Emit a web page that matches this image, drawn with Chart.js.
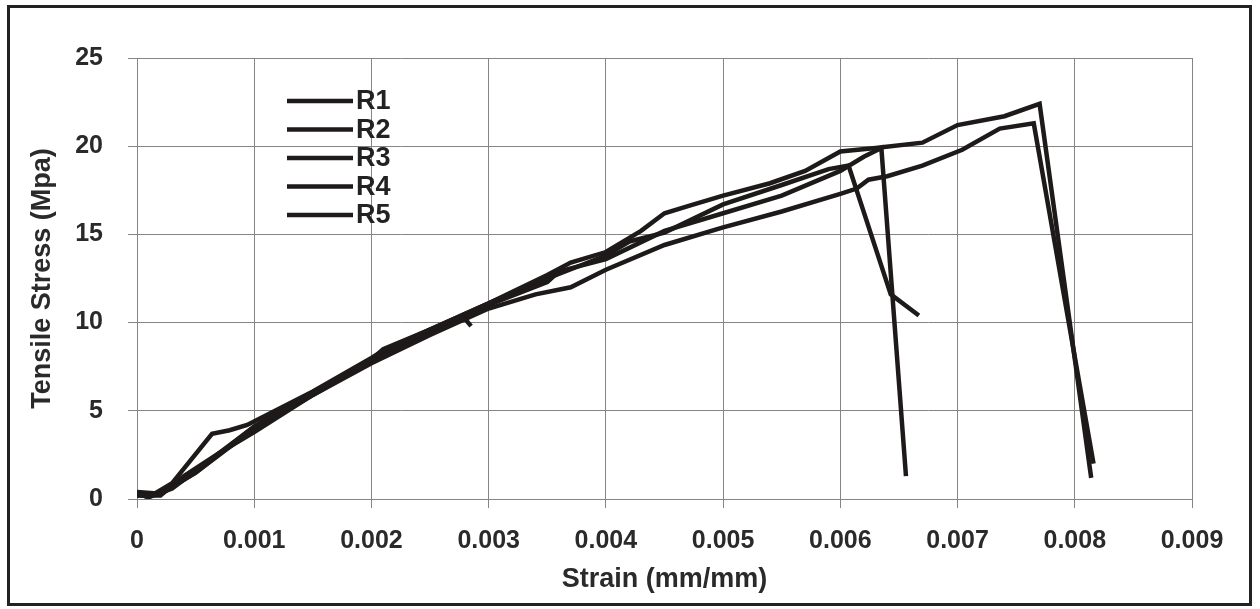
<!DOCTYPE html>
<html>
<head>
<meta charset="utf-8">
<title>Tensile Stress vs Strain</title>
<script src="https://cdn.jsdelivr.net/npm/chart.js@4/dist/chart.umd.min.js"></script>
<style>
    body { margin: 0; background: #fff; }
    #frame {
        position: absolute; left: 7px; top: 5px;
        width: 1239px; height: 595px;
        border: 3px solid #222;
    }
    #stressChart { position: absolute; left: 0; top: 0; }
</style>
</head>
<body>
<div id="frame"></div>
<canvas id="stressChart" width="1260" height="609"></canvas>
<script>
// strain (mm/mm) and tensile stress (MPa) for each specimen
const r1Strain = [0, 0.0001, 0.0003, 0.0005, 0.001, 0.0015, 0.002, 0.0021, 0.0025, 0.003, 0.0035, 0.0037, 0.004, 0.0043, 0.0045, 0.0047, 0.005, 0.0054, 0.0057, 0.006, 0.0063, 0.0067, 0.007, 0.0074, 0.0077, 0.00814];
const r1Stress = [0.3, 0.1, 0.6, 1.6, 4.1, 6.0, 7.9, 8.5, 9.6, 11.1, 12.7, 13.4, 14.0, 15.2, 16.2, 16.6, 17.2, 17.9, 18.6, 19.7, 19.9, 20.2, 21.2, 21.7, 22.4, 1.2];

const r2Strain = [0, 0.0002, 0.0004, 0.0007, 0.001, 0.0015, 0.002, 0.0025, 0.003, 0.0034, 0.0037, 0.004, 0.0045, 0.005, 0.0055, 0.006, 0.00614, 0.00624, 0.0064, 0.0067, 0.00704, 0.00736, 0.00765, 0.00816];
const r2Stress = [0.2, 0.2, 1.3, 2.6, 3.8, 5.9, 7.7, 9.3, 10.8, 11.6, 12.0, 13.0, 14.4, 15.4, 16.3, 17.3, 17.6, 18.1, 18.3, 18.9, 19.8, 21.0, 21.3, 2.0];

const r3Strain = [0, 0.0002, 0.0005, 0.001, 0.0015, 0.002, 0.0025, 0.003, 0.0035, 0.0036, 0.004, 0.0045, 0.005, 0.0055, 0.006, 0.0062, 0.00635, 0.00656];
const r3Stress = [0.4, 0.3, 1.5, 4.0, 5.9, 7.8, 9.4, 11.0, 12.3, 12.9, 13.6, 15.2, 16.2, 17.2, 18.6, 19.4, 19.9, 1.3];

const r4Strain = [0, 0.0001, 0.0003, 0.00064, 0.00079, 0.00094, 0.0015, 0.002, 0.0021, 0.0025, 0.003, 0.0035, 0.004, 0.0042, 0.0045, 0.005, 0.0055, 0.0059, 0.00607, 0.00643, 0.00667];
const r4Stress = [0.3, 0.1, 0.9, 3.7, 3.9, 4.2, 6.1, 8.0, 8.4, 9.6, 11.1, 12.5, 13.8, 14.6, 15.1, 16.7, 17.8, 18.7, 18.9, 11.6, 10.4];

const r5Strain = [0, 0.0002, 0.0005, 0.001, 0.0015, 0.002, 0.0025, 0.0028, 0.00285];
const r5Stress = [0.2, 0.3, 1.5, 4.1, 6.0, 7.9, 9.6, 10.2, 9.8];

const seriesNames = ['R1', 'R2', 'R3', 'R4', 'R5'];
const strainTicks = [0, 0.001, 0.002, 0.003, 0.004, 0.005, 0.006, 0.007, 0.008, 0.009];
const stressTicks = [0, 5, 10, 15, 20, 25];

const allStrain = [r1Strain, r2Strain, r3Strain, r4Strain, r5Strain];
const allStress = [r1Stress, r2Stress, r3Stress, r4Stress, r5Stress];

Chart.defaults.font.family = '"Liberation Sans", Arial, sans-serif';
Chart.defaults.font.weight = 'bold';
Chart.defaults.color = '#2a2a2a';

const lineColor = '#1d1a19';
const gridColor = '#858585';

// legend drawn inside the plot, top left
const insideLegend = {
    id: 'insideLegend',
    afterDraw(chart) {
        const ctx = chart.ctx;
        ctx.save();
        ctx.font = 'bold 27px "Liberation Sans", Arial, sans-serif';
        ctx.textBaseline = 'middle';
        chart.data.datasets.forEach((ds, i) => {
            const y = 101 + i * 28.5;
            ctx.strokeStyle = ds.borderColor;
            ctx.lineWidth = 4.5;
            ctx.beginPath();
            ctx.moveTo(287, y);
            ctx.lineTo(353, y);
            ctx.stroke();
            ctx.fillStyle = '#222';
            ctx.fillText(ds.label, 356, y + 1);
        });
        ctx.restore();
    }
};

const ctx = document.getElementById('stressChart').getContext('2d');
const stressChart = new Chart(ctx, {
    type: 'scatter',
    data: {
        datasets: seriesNames.map((name, i) => ({
            label: name,
            data: allStrain[i].map((x, j) => ({ x: x, y: allStress[i][j] })),
            showLine: true,
            borderColor: lineColor,
            borderWidth: 4.5,
            pointRadius: 0,
            tension: 0
        }))
    },
    options: {
        responsive: false,
        animation: false,
        devicePixelRatio: 1,
        layout: {
            padding: { top: 58, right: 68, left: 0, bottom: 0 }
        },
        scales: {
            x: {
                type: 'linear',
                min: 0,
                max: 0.009,
                afterBuildTicks: s => { s.ticks = strainTicks.map(v => ({ value: v })); },
                afterFit: s => { s.height = 110; },
                grid: { color: gridColor, tickLength: 9, lineWidth: 1 },
                border: { color: gridColor },
                ticks: {
                    font: { size: 25 },
                    padding: 18,
                    maxRotation: 0,
                    callback: v => v === 0 ? '0' : v.toFixed(3)
                },
                title: {
                    display: true,
                    text: 'Strain (mm/mm)',
                    font: { size: 27 },
                    padding: { top: 0, bottom: 13 }
                }
            },
            y: {
                min: 0,
                max: 25,
                afterBuildTicks: s => { s.ticks = stressTicks.map(v => ({ value: v })); },
                afterFit: s => { s.width = 137; },
                grid: { color: gridColor, tickLength: 9, lineWidth: 1 },
                border: { color: gridColor },
                ticks: { font: { size: 25 }, padding: 25 },
                title: {
                    display: true,
                    text: 'Tensile Stress (Mpa)',
                    font: { size: 27 },
                    padding: { top: 26, bottom: 0 }
                }
            }
        },
        plugins: {
            legend: { display: false },
            tooltip: { enabled: false }
        }
    },
    plugins: [insideLegend]
});
</script>
</body>
</html>
